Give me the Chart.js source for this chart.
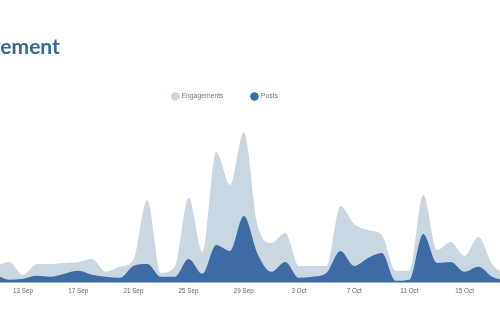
<!DOCTYPE html>
<html>
<head>
<meta charset="utf-8">
<script src="https://cdn.jsdelivr.net/npm/chart.js@4.4.1/dist/chart.umd.min.js"></script>
<style>
  html, body { margin: 0; padding: 0; background: #ffffff; overflow: hidden; width: 500px; height: 330px; }
  #wrap { position: absolute; left: -56px; top: 0; width: 562px; height: 330px; }
</style>
</head>
<body>
<div id="wrap"><canvas id="c"></canvas></div>
<script>
const dates = [
  '11 Sep','12 Sep','13 Sep','14 Sep','15 Sep','16 Sep','17 Sep','18 Sep','19 Sep','20 Sep',
  '21 Sep','22 Sep','23 Sep','24 Sep','25 Sep','26 Sep','27 Sep','28 Sep','29 Sep','30 Sep',
  '1 Oct','2 Oct','3 Oct','4 Oct','5 Oct','6 Oct','7 Oct','8 Oct','9 Oct','10 Oct',
  '11 Oct','12 Oct','13 Oct','14 Oct','15 Oct','16 Oct','17 Oct','18 Oct'
];
const engagements = [
  85, 105, 40, 95, 95, 100, 105, 120, 55, 80,
  115, 415, 50, 80, 425, 155, 655, 490, 755, 290,
  200, 250, 85, 85, 85, 385, 295, 265, 240, 60,
  60, 440, 165, 205, 135, 230, 95, 40
];
const posts = [
  40, 15, 20, 35, 30, 45, 60, 40, 30, 25,
  85, 95, 30, 30, 120, 45, 190, 160, 335, 145,
  55, 105, 25, 30, 50, 160, 85, 125, 150, 10,
  15, 245, 100, 105, 55, 80, 30, 10
];
const tickLabels = ['13 Sep','17 Sep','21 Sep','25 Sep','29 Sep','3 Oct','7 Oct','11 Oct','15 Oct'];
const seriesNames = ['Engagements', 'Posts'];
const smallFont = "'Liberation Sans', Arial, sans-serif";

const chart = new Chart(document.getElementById('c'), {
  type: 'line',
  data: {
    labels: dates,
    datasets: [
      {
        label: seriesNames[1],
        data: posts,
        fill: 'origin',
        backgroundColor: '#3c6ba5',
        borderColor: '#3c6ba5',
        borderWidth: 0,
        pointRadius: 0,
        cubicInterpolationMode: 'monotone'
      },
      {
        label: seriesNames[0],
        data: engagements,
        fill: 'origin',
        backgroundColor: '#c9d7e3',
        borderColor: '#c9d7e3',
        borderWidth: 0,
        pointRadius: 0,
        cubicInterpolationMode: 'monotone'
      }
    ]
  },
  options: {
    responsive: true,
    maintainAspectRatio: false,
    animation: false,
    layout: { padding: { left: 0, right: 0, top: 0, bottom: 29.6 } },
    plugins: {
      title: {
        display: true,
        text: 'Engagement',
        align: 'start',
        color: '#3a6797',
        font: { family: 'Lato', size: 21, weight: 'bold' },
        padding: { top: 35, bottom: 5 }
      },
      legend: {
        display: true,
        reverse: true,
        labels: {
          usePointStyle: true,
          pointStyle: 'circle',
          boxWidth: 6,
          boxHeight: 6,
          padding: 28,
          color: '#777777',
          font: { family: smallFont, size: 6.8 }
        }
      },
      tooltip: { enabled: false }
    },
    scales: {
      x: {
        type: 'category',
        offset: false,
        grid: { display: false, drawTicks: false, tickLength: 0 },
        border: { display: false },
        ticks: {
          autoSkip: false,
          maxRotation: 0,
          color: '#666666',
          padding: 5,
          font: { family: smallFont, size: 6.3 },
          callback: function (value) {
            const lab = this.getLabelForValue(value);
            return tickLabels.includes(lab) ? lab : '';
          }
        },
        afterFit: function (scale) { scale.paddingLeft = 0; scale.paddingRight = 0; }
      },
      y: {
        display: true,
        min: 0,
        max: 866,
        grid: { display: false },
        border: { display: false },
        ticks: { display: false },
        afterFit: function (scale) { scale.width = 51.4; }
      }
    }
  }
});
</script>
</body>
</html>
